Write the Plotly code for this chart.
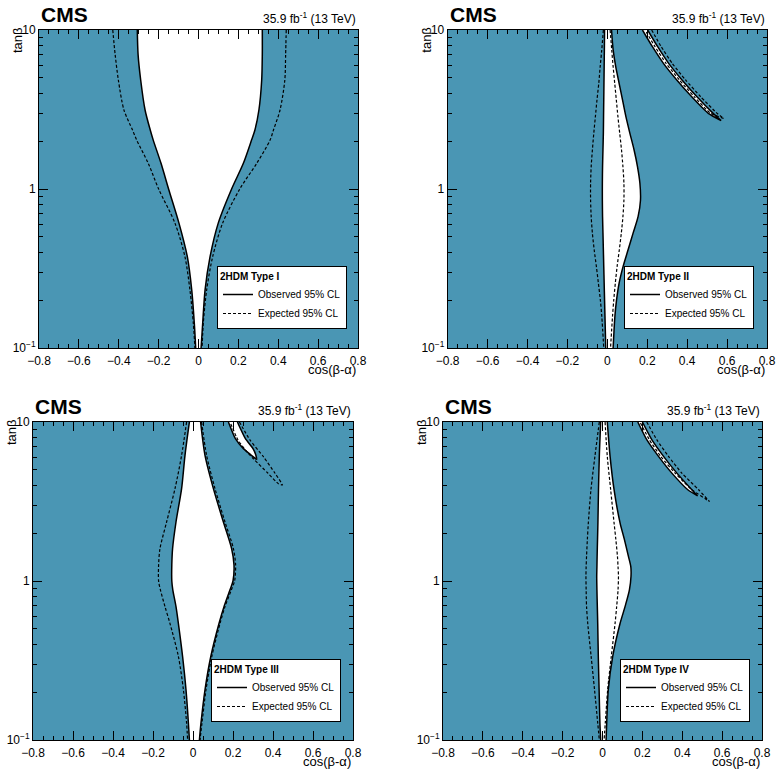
import plotly.graph_objects as go

TEAL = "#4a96b4"
FONT = "Liberation Sans, Arial, Helvetica, sans-serif"

# ---------------- Type I ----------------
t1 = [10, 7, 4.85, 3.14, 2.35, 2.03, 1.45, 1.0, 0.61, 0.375, 0.232, 0.143, 0.1]
obs1_left = [-0.307, -0.303, -0.290, -0.268, -0.242, -0.227, -0.188, -0.150, -0.098, -0.056, -0.034, -0.021, -0.014]
obs1_right = [0.320, 0.320, 0.317, 0.303, 0.283, 0.266, 0.225, 0.166, 0.099, 0.058, 0.033, 0.021, 0.013]
exp1_left = [-0.430, -0.418, -0.402, -0.374, -0.331, -0.310, -0.252, -0.200, -0.118, -0.068, -0.043, -0.026, -0.018]
exp1_right = [0.440, 0.437, 0.433, 0.409, 0.376, 0.359, 0.292, 0.207, 0.121, 0.071, 0.041, 0.024, 0.018]

# ---------------- Type II ----------------
t2 = [10, 7.49, 5.88, 4.62, 3.63, 2.85, 2.24, 1.76, 1.385, 1.09, 0.85, 0.67, 0.528, 0.415, 0.326, 0.256, 0.2, 0.159, 0.1]
obs2_left = [-0.014, -0.015, -0.016, -0.017, -0.018, -0.019, -0.020, -0.022, -0.024, -0.025, -0.025, -0.024, -0.022, -0.020, -0.018, -0.016, -0.014, -0.012, -0.008]
obs2_right = [0.021, 0.029, 0.042, 0.059, 0.076, 0.093, 0.113, 0.134, 0.151, 0.163, 0.166, 0.154, 0.129, 0.104, 0.079, 0.059, 0.046, 0.038, 0.029]
exp2_left = [-0.020, -0.028, -0.036, -0.043, -0.052, -0.060, -0.068, -0.075, -0.081, -0.084, -0.084, -0.081, -0.075, -0.066, -0.055, -0.045, -0.035, -0.028, -0.018]
exp2_right = [0.014, 0.022, 0.029, 0.037, 0.045, 0.053, 0.062, 0.071, 0.078, 0.083, 0.083, 0.078, 0.070, 0.060, 0.049, 0.040, 0.032, 0.026, 0.016]
# upper-right island
arc2_t = [10, 7.85, 6.17, 4.85, 3.8, 2.99, 2.69]
arc2_obs_outer = [0.202, 0.252, 0.307, 0.374, 0.449, 0.530, 0.570]
arc2_obs_inner = [0.176, 0.226, 0.281, 0.348, 0.423, 0.506, 0.570]
arc2e_t = [10, 7.85, 6.17, 4.85, 3.8, 2.99, 2.78]
arc2_exp_outer = [0.222, 0.270, 0.325, 0.392, 0.468, 0.550, 0.583]
arc2_exp_inner = [0.189, 0.239, 0.294, 0.361, 0.436, 0.518, 0.583]

# ---------------- Type III ----------------
t3 = [10, 6.17, 3.81, 2.35, 1.6, 1.26, 1.0, 0.88, 0.69, 0.54, 0.335, 0.207, 0.128, 0.1]
obs3_left = [-0.018, -0.040, -0.057, -0.085, -0.102, -0.106, -0.106, -0.101, -0.085, -0.073, -0.052, -0.035, -0.023, -0.018]
obs3_right = [0.038, 0.060, 0.102, 0.152, 0.193, 0.205, 0.200, 0.185, 0.155, 0.130, 0.089, 0.060, 0.040, 0.032]
exp3_left = [-0.032, -0.057, -0.090, -0.132, -0.165, -0.172, -0.172, -0.163, -0.140, -0.115, -0.073, -0.048, -0.032, -0.027]
exp3_right = [0.043, 0.068, 0.110, 0.160, 0.202, 0.213, 0.208, 0.192, 0.160, 0.135, 0.094, 0.065, 0.045, 0.035]
arc3_outer_t = [10, 7.85, 6.8, 6.2, 5.82]
arc3_obs_outer = [0.222, 0.262, 0.300, 0.314, 0.318]
arc3_inner_t = [10, 7.85, 6.8, 6.2]
arc3_obs_inner = [0.177, 0.212, 0.252, 0.290]
arc3e_outer_t = [10, 7.7, 6.05, 4.76, 4.02]
arc3_exp_outer = [0.232, 0.285, 0.352, 0.410, 0.447]
arc3e_inner_t = [10, 7.7, 6.6, 5.87, 4.76, 4.09]
arc3_exp_inner = [0.185, 0.225, 0.265, 0.302, 0.375, 0.427]

# ---------------- Type IV ----------------
t4 = [10, 6.08, 3.75, 2.32, 1.82, 1.43, 1.23, 1.07, 0.88, 0.69, 0.54, 0.335, 0.207, 0.128, 0.1]
obs4_left = [-0.009, -0.016, -0.020, -0.023, -0.025, -0.027, -0.028, -0.029, -0.028, -0.026, -0.024, -0.021, -0.017, -0.013, -0.009]
obs4_right = [0.024, 0.038, 0.058, 0.088, 0.110, 0.130, 0.142, 0.143, 0.135, 0.113, 0.088, 0.051, 0.029, 0.021, 0.018]
exp4_left = [-0.016, -0.038, -0.058, -0.071, -0.076, -0.080, -0.082, -0.083, -0.082, -0.080, -0.074, -0.057, -0.040, -0.024, -0.016]
exp4_right = [0.013, 0.024, 0.041, 0.058, 0.067, 0.075, 0.078, 0.080, 0.078, 0.071, 0.063, 0.044, 0.026, 0.014, 0.008]
arc4_t = [10, 7.74, 6.08, 4.77, 3.75, 3.43]
arc4_obs_outer = [0.200, 0.247, 0.306, 0.373, 0.448, 0.477]
arc4_obs_inner = [0.177, 0.222, 0.281, 0.348, 0.428, 0.477]
arc4e_t = [10, 7.74, 6.08, 4.77, 3.75, 3.16]
arc4_exp_outer = [0.222, 0.272, 0.331, 0.398, 0.482, 0.537]
arc4_exp_inner = [0.188, 0.235, 0.292, 0.364, 0.448, 0.537]

titles = ["2HDM Type I", "2HDM Type II", "2HDM Type III", "2HDM Type IV"]

# panel pixel boxes in window pixels (left, right, top, bottom)
W, H = 778, 771
boxes = [(39, 358, 30, 348), (447.7, 767, 30, 348), (33, 353, 422, 740), (443, 762, 422, 740)]
legend_pos = [(347, 329), (754, 329), (341, 722), (750, 722)]

def px(x):
    return x / W

def py(y):
    return 1 - y / H

fig = go.Figure()

OBS = dict(color="black", width=1.5, shape="spline", smoothing=0.8)
EXP = dict(color="black", width=1.2, dash="3px,2px", shape="spline", smoothing=0.8)

panels = [
    dict(t=t1, ol=obs1_left, orr=obs1_right, el=exp1_left, er=exp1_right, arcs_obs=[], arcs_exp=[]),
    dict(t=t2, ol=obs2_left, orr=obs2_right, el=exp2_left, er=exp2_right,
         arcs_obs=[(arc2_obs_outer, arc2_t, arc2_obs_inner, arc2_t)],
         arcs_exp=[(arc2_exp_outer, arc2e_t, arc2_exp_inner, arc2e_t)]),
    dict(t=t3, ol=obs3_left, orr=obs3_right, el=exp3_left, er=exp3_right,
         arcs_obs=[(arc3_obs_outer, arc3_outer_t, arc3_obs_inner, arc3_inner_t)],
         arcs_exp=[(arc3_exp_outer, arc3e_outer_t, arc3_exp_inner, arc3e_inner_t)]),
    dict(t=t4, ol=obs4_left, orr=obs4_right, el=exp4_left, er=exp4_right,
         arcs_obs=[(arc4_obs_outer, arc4_t, arc4_obs_inner, arc4_t)],
         arcs_exp=[(arc4_exp_outer, arc4e_t, arc4_exp_inner, arc4e_t)]),
]

annotations = []
layout_axes = {}
for i, p in enumerate(panels):
    k = "" if i == 0 else str(i + 1)
    xa, ya = "x" + k, "y" + k
    lg = "legend" + k
    t = p["t"]
    fig.add_trace(go.Scatter(x=p["ol"], y=t, mode="lines", line=OBS, xaxis=xa, yaxis=ya,
                             name="Observed 95% CL", legend=lg, showlegend=True, hoverinfo="skip"))
    fig.add_trace(go.Scatter(x=p["orr"], y=t, mode="lines", line=OBS, xaxis=xa, yaxis=ya,
                             fill="tonextx", fillcolor="white", showlegend=False, legend=lg, hoverinfo="skip"))
    for (xo, to, xi, ti) in p["arcs_obs"]:
        fig.add_trace(go.Scatter(x=list(xo) + list(xi[::-1]), y=list(to) + list(ti[::-1]),
                                 mode="lines", line=dict(color="black", width=1.5, shape="spline", smoothing=0.5),
                                 fill="toself", fillcolor="white", xaxis=xa, yaxis=ya, showlegend=False,
                                 legend=lg, hoverinfo="skip"))
    fig.add_trace(go.Scatter(x=p["el"], y=t, mode="lines", line=EXP, xaxis=xa, yaxis=ya,
                             name="Expected 95% CL", legend=lg, showlegend=True, hoverinfo="skip"))
    fig.add_trace(go.Scatter(x=p["er"], y=t, mode="lines", line=EXP, xaxis=xa, yaxis=ya,
                             showlegend=False, legend=lg, hoverinfo="skip"))
    for (xo, to, xi, ti) in p["arcs_exp"]:
        fig.add_trace(go.Scatter(x=list(xo) + list(xi[::-1]), y=list(to) + list(ti[::-1]),
                                 mode="lines", line=dict(color="black", width=1.2, dash="3px,2px", shape="spline", smoothing=0.5),
                                 xaxis=xa, yaxis=ya, showlegend=False, legend=lg, hoverinfo="skip"))

    L, R, T, B = boxes[i]
    layout_axes["xaxis" + k] = dict(
        domain=[px(L), px(R)], anchor=ya, range=[-0.8, 0.8], tickmode="linear", tick0=-0.8, dtick=0.2,
        ticks="inside", ticklen=9, tickwidth=1, tickcolor="black", automargin=False,
        minor=dict(ticks="inside", ticklen=4, dtick=0.05, tick0=-0.8, tickcolor="black", tickwidth=1, showgrid=False),
        showline=True, linecolor="black", linewidth=1, mirror="ticks", showgrid=False, zeroline=False,
        tickfont=dict(size=12, color="black", family=FONT), ticklabelstandoff=2, fixedrange=True)
    layout_axes["yaxis" + k] = dict(
        domain=[py(B), py(T)], anchor=xa, type="log", range=[-1, 1], automargin=False,
        tickmode="array", tickvals=[0.1, 1, 10], ticktext=["10<sup>\u22121</sup>", "1", "10"],
        ticks="inside", ticklen=9, tickwidth=1, tickcolor="black",
        minor=dict(ticks="inside", ticklen=4, tickcolor="black", tickwidth=1, showgrid=False,
                   tickvals=[0.2, 0.3, 0.4, 0.5, 0.6, 0.7, 0.8, 0.9, 2, 3, 4, 5, 6, 7, 8, 9]),
        showline=True, linecolor="black", linewidth=1, mirror="ticks", showgrid=False, zeroline=False,
        tickfont=dict(size=12, color="black", family=FONT), fixedrange=True)

    lx, ly = legend_pos[i]
    layout_axes[lg] = dict(
        x=px(lx), y=py(ly), xanchor="right", yanchor="bottom", traceorder="normal",
        bgcolor="white", bordercolor="black", borderwidth=1,
        font=dict(size=10, color="black", family=FONT),
        title=dict(text="<b>" + titles[i] + "</b>", font=dict(size=10, color="black", family=FONT)),
        tracegroupgap=0, itemwidth=30)

    annotations += [
        dict(text="<b>CMS</b>", x=px(L), y=py(T - 16), xref="paper", yref="paper", xanchor="left", yanchor="middle",
             showarrow=False, font=dict(size=21, color="black", family=FONT)),
        dict(text="35.9 fb<sup>-1</sup> (13 TeV)", x=px(R), y=py(T - 12), xref="paper", yref="paper",
             xanchor="right", yanchor="middle", showarrow=False, font=dict(size=12, color="black", family=FONT)),
        dict(text="tan\u03b2", x=px(L - 22), y=py(T + 10), xref="paper", yref="paper", textangle=-90,
             xanchor="center", yanchor="middle", showarrow=False, font=dict(size=13, color="black", family=FONT)),
        dict(text="cos(\u03b2-\u03b1)", x=px(R), y=py(B + 21), xref="paper", yref="paper",
             xanchor="right", yanchor="middle", showarrow=False, font=dict(size=13, color="black", family=FONT)),
    ]

fig.update_layout(
    width=W, height=H, margin=dict(l=0, r=0, t=0, b=0, autoexpand=False),
    paper_bgcolor="white", plot_bgcolor=TEAL, hovermode=False,
    font=dict(family=FONT, color="black"),
    annotations=annotations, **layout_axes)

fig.write_html("out.html", config={"displayModeBar": False},
               post_script="document.body.style.margin='0px';document.body.style.padding='0px';"
                           "document.body.style.overflow='hidden';")
